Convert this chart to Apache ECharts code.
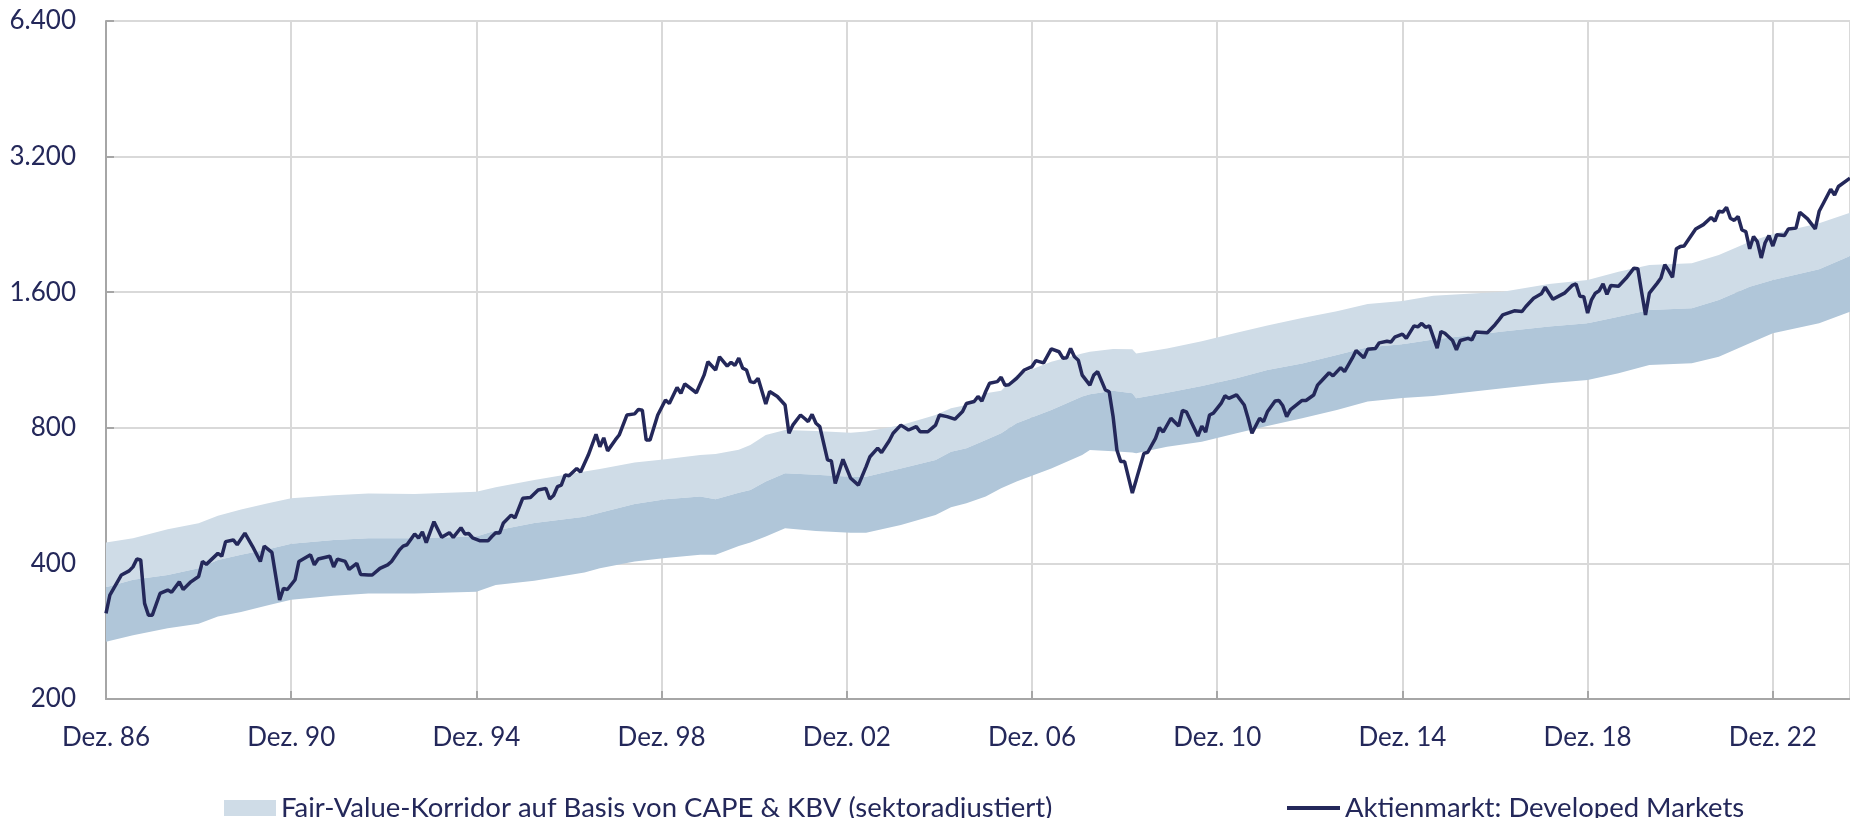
<!DOCTYPE html>
<html>
<head>
<meta charset="utf-8">
<script src="https://cdn.jsdelivr.net/npm/echarts@6/dist/echarts.min.js"></script>
<style>
html,body{margin:0;padding:0;background:#ffffff;}
#chart{width:1850px;height:818px;}
</style>
</head>
<body>
<div id="chart"></div>
<script>
// ---------- DATA ----------
// y-axis tick values (log scale, base 2)
const yTicks = [200, 400, 800, 1600, 3200, 6400];
// x-axis tick labels (every 48 months from Dez. 86)
const xTickLabels = ['Dez. 86','Dez. 90','Dez. 94','Dez. 98','Dez. 02','Dez. 06','Dez. 10','Dez. 14','Dez. 18','Dez. 22'];
const lastMonth = 452; // months after Dez. 86 (Aug. 24)

const lineName = 'Aktienmarkt: Developed Markets';
const bandName = 'Fair-Value-Korridor auf Basis von CAPE & KBV (sektoradjustiert)';

// Aktienmarkt: months after Dez. 86
const lineMonths = [0,1,2,4,6,7,8,9,10,11,12,14,16,17,19,20,22,24,25,26,29,30,31,33,34,36,38,40,41,43,45,46,47,49,50,53,54,55,58,59,60,62,63,65,66,68,69,71,73,74,76,77,78,80,81,82,83,85,87,89,90,92,93,94,95,97,99,100,101,
102,103,105,106,108,110,112,114,115,116,117,118,119,120,122,123,125,127,128,129,130,132,133,135,137,138,139,140,141,143,145,146,148,149,150,153,155,156,158,159,161,162,163,164,165,166,167,168,169,171,172,174,176,177,178,180,181,182,183,184,185,187,188,189,191,193,195,197,198,200,201,203,204,206,208,210,211,213,215,216,218,220,222,223,225,226,227,228,229,231,232,
233,234,236,238,240,241,243,244,245,247,248,249,250,251,252,253,255,256,257,259,260,261,262,263,264,266,267,269,270,272,273,274,276,278,279,280,283,284,285,286,287,289,290,291,293,295,296,297,299,300,301,303,304,305,306,307,310,311,313,314,315,317,318,320,321,323,324,326,327,329,330,332,333,334,
336,337,339,340,341,342,343,345,346,347,349,350,351,353,354,355,358,360,361,362,365,367,368,370,372,373,375,377,378,380,381,382,383,384,385,386,387,388,389,390,392,394,396,397,398,399,400,402,403,404,405,406,407,408,409,412,414,416,417,418,419,420,421,422,423,424,425,426,427,428,429,430,431,432,433,435,436,438,439,441,443,444,445,447,448,449,452];
const lineValues = [310,340,352,377,385,393,409,407,326,307,307,343,349,345,364,350,364,374,404,398,421,415,447,451,440,467,436,404,437,423,332,352,350,368,404,418,397,409,415,393,409,404,388,400,378,377,377,390,397,404,428,437,440,465,455,470,445,495,457,468,457,480,465,466,456,449,449,459,468,
467,492,512,505,558,560,582,587,556,566,592,597,629,626,650,638,696,774,726,760,711,752,771,854,859,879,875,752,752,854,922,906,983,954,1001,957,1047,1121,1075,1150,1097,1118,1100,1142,1085,1075,1013,1008,1030,904,963,939,899,778,811,854,840,826,857,819,805,679,675,602,681,618,597,656,690,721,705,749,778,811,791,805,784,784,811,854,847,836,869,906,915,939,917,963,1005,1013,1036,
994,997,1030,1075,1094,1128,1115,1155,1197,1180,1142,1145,1200,1150,1130,1047,995,1047,1066,971,962,849,714,673,673,573,613,702,706,758,801,783,840,807,874,868,767,807,783,854,862,906,942,930,947,899,840,778,840,826,868,917,920,895,847,878,920,920,946,995,1016,1060,1043,1088,1066,1142,1188,1145,1195,1200,1235,1245,1240,1271,
1291,1264,1347,1340,1364,1337,1347,1202,1309,1297,1250,1192,1250,1264,1254,1306,1300,1355,1389,1425,1455,1450,1487,1551,1587,1641,1543,1576,1592,1656,1669,1567,1563,1438,1539,1592,1612,1669,1582,1656,1650,1720,1809,1805,1600,1425,1592,1674,1720,1841,1787,1727,1998,2020,2026,2209,2260,2344,2300,2420,2410,2470,2335,2310,2355,2199,2180,1998,2126,2070,1906,2060,2137,2026,2145,2137,2209,2220,2408,2328,2211,2420,2512,2708,2630,2746,2866];

// Fair-value corridor: months after Dez. 86 and the three edges
const bandMonths = [0,7,16,24,29,35,42,48,59,68,80,96,101,111,124,128,137,145,154,158,164,167,171,176,184,193,197,206,215,219,223,228,232,236,245,253,255,261,266,267,275,284,293,301,310,319,327,336,344,362,374,384,392,400,411,418,426,432,444,452];
const bandUpper = [445,455,476,491,510,527,544,558,567,572,570,577,590,613,640,648,670,681,696,700,715,733,771,791,787,780,785,811,854,884,899,954,967,1047,1121,1170,1180,1197,1195,1170,1200,1245,1300,1349,1403,1452,1506,1530,1571,1604,1669,1703,1777,1838,1855,1935,2071,2154,2275,2402];
const bandMid   = [354,368,377,390,407,418,430,442,451,455,455,459,473,492,508,518,542,555,563,555,574,582,608,634,629,623,623,650,679,708,721,752,778,819,876,939,950,967,954,930,957,990,1030,1075,1112,1161,1207,1226,1257,1308,1342,1365,1412,1461,1474,1538,1646,1703,1799,1925];
const bandLower = [268,277,287,294,305,312,323,332,339,343,343,346,358,366,382,390,404,411,418,418,437,445,459,479,472,468,468,487,512,533,544,563,587,608,650,696,714,710,705,702,726,745,778,807,840,876,915,932,941,979,1004,1021,1057,1103,1113,1150,1232,1297,1365,1448];

// ---------- STYLE ----------
const navy = '#24285a';
const lightBand = '#cfdce7';
const darkBand = '#b0c6d9';
const gridColor = '#d9d9d9';
const axisColor = '#a6a6a6';
const fontFamily = 'Lato, "Noto Sans", sans-serif';
const fontSize = 26;
const legendFontSize = 27.5;

// log2 scale relative to the lowest tick (axis runs 0..5 doublings)
const L = v => Math.log2(v / yTicks[0]);
const fmt = n => String(n).replace(/\B(?=(\d{3})+(?!\d))/g, '.');

function bandRenderer(lo, hi, color) {
  return function (params, api) {
    if (params.dataIndex !== 0) return null;
    const pts = [];
    for (let i = 0; i < bandMonths.length; i++) pts.push(api.coord([bandMonths[i], L(hi[i])]));
    for (let i = bandMonths.length - 1; i >= 0; i--) pts.push(api.coord([bandMonths[i], L(lo[i])]));
    return { type: 'polygon', shape: { points: pts }, style: { fill: color } };
  };
}

const chart = echarts.init(document.getElementById('chart'), null, { renderer: 'canvas' });
chart.setOption({
  animation: false,
  backgroundColor: '#ffffff',
  grid: { left: 106, right: 0, top: 21, bottom: 119 },
  legend: [
    {
      left: 219, top: 789, itemWidth: 52, itemHeight: 16, itemGap: 0,
      data: [{ name: bandName, icon: 'rect', itemStyle: { color: lightBand } }],
      textStyle: { color: navy, fontSize: legendFontSize, fontFamily: fontFamily }
    },
    {
      left: 1282, top: 789, itemWidth: 53, itemHeight: 4, itemGap: 0,
      data: [{ name: lineName, icon: 'rect', itemStyle: { color: navy } }],
      textStyle: { color: navy, fontSize: legendFontSize, fontFamily: fontFamily }
    }
  ],
  xAxis: {
    type: 'value', min: 0, max: lastMonth, interval: 48,
    axisLine: { show: true, lineStyle: { color: axisColor, width: 2 } },
    axisTick: { show: true, inside: true, length: 8, lineStyle: { color: axisColor, width: 2 } },
    axisLabel: {
      margin: 26, color: navy, fontSize: fontSize, fontFamily: fontFamily,
      showMaxLabel: false,
      formatter: v => (v % 48 === 0 ? (xTickLabels[v / 48] || '') : '')
    },
    splitLine: { show: true, lineStyle: { color: gridColor, width: 2 } }
  },
  yAxis: {
    type: 'value', min: 0, max: yTicks.length - 1, interval: 1,
    axisLine: { show: true, lineStyle: { color: axisColor, width: 2 } },
    axisTick: { show: true, inside: true, length: 8, lineStyle: { color: axisColor, width: 2 } },
    axisLabel: {
      margin: 30, color: navy, fontSize: fontSize, fontFamily: fontFamily,
      formatter: v => fmt(yTicks[Math.round(v)])
    },
    splitLine: { show: true, lineStyle: { color: gridColor, width: 2 } }
  },
  series: [
    {
      name: bandName, type: 'custom', silent: true,
      itemStyle: { color: lightBand },
      renderItem: bandRenderer(bandMid, bandUpper, lightBand),
      encode: { x: 0, y: [1, 2] },
      data: bandMonths.map((m, i) => [m, L(bandMid[i]), L(bandUpper[i])]),
      z: 1
    },
    {
      name: 'Kern', type: 'custom', silent: true,
      itemStyle: { color: darkBand },
      renderItem: bandRenderer(bandLower, bandMid, darkBand),
      encode: { x: 0, y: [1, 2] },
      data: bandMonths.map((m, i) => [m, L(bandLower[i]), L(bandMid[i])]),
      z: 2
    },
    {
      name: lineName, type: 'line', symbol: 'none', z: 3,
      itemStyle: { color: navy },
      lineStyle: { color: navy, width: 3.5 },
      data: lineMonths.map((m, i) => [m, L(lineValues[i])])
    }
  ]
});
</script>
</body>
</html>
